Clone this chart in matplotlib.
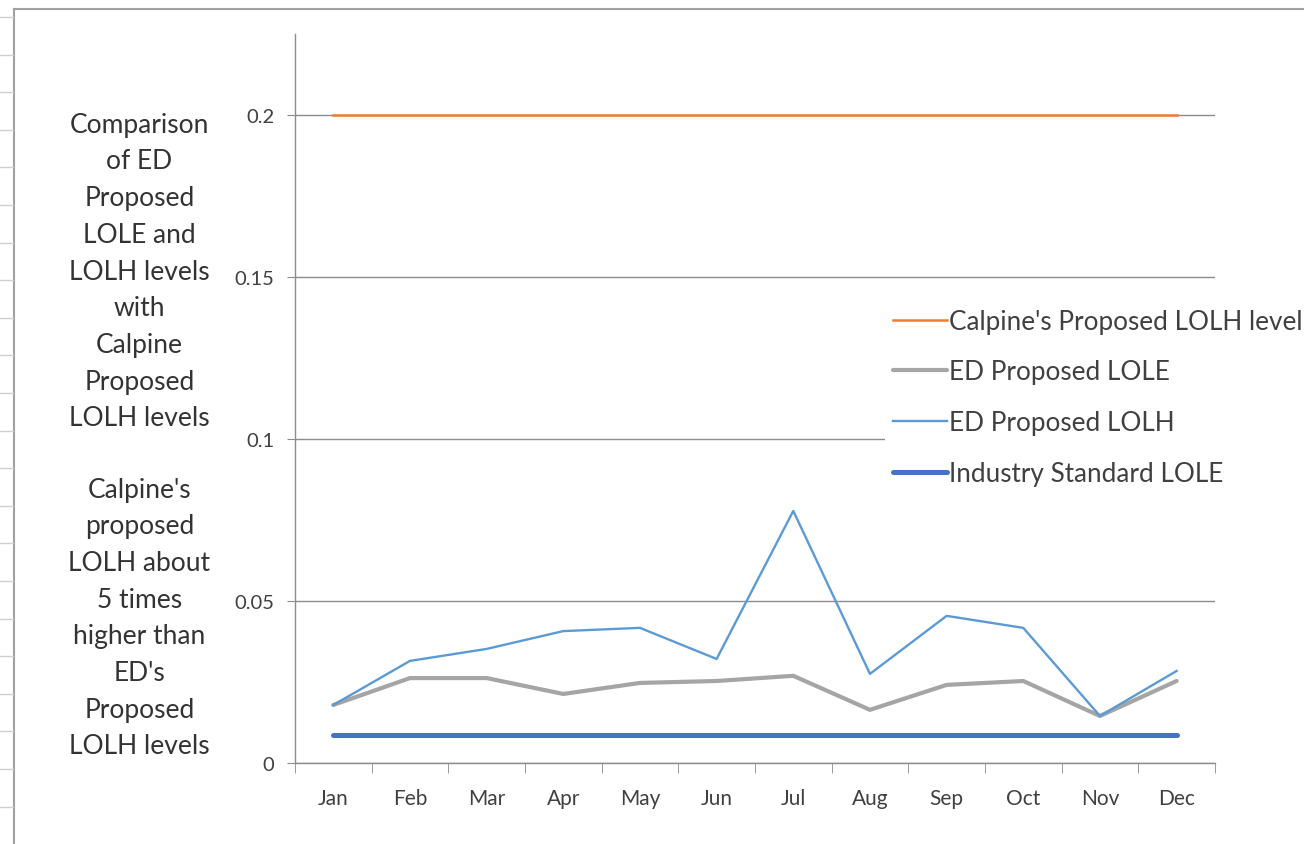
import numpy as np
import matplotlib.pyplot as plt
from matplotlib.lines import Line2D

months = ['Jan', 'Feb', 'Mar', 'Apr', 'May', 'Jun', 'Jul', 'Aug', 'Sep', 'Oct', 'Nov', 'Dec']
calpine_lolh = [0.2] * 12
ed_lole = [0.0179, 0.0262, 0.0262, 0.0213, 0.0247, 0.0253, 0.0269, 0.0164, 0.0241, 0.0253, 0.0145, 0.0253]
ed_lolh = [0.0179, 0.0315, 0.0352, 0.0407, 0.0417, 0.0321, 0.0778, 0.0275, 0.0454, 0.0417, 0.0145, 0.0284]
industry_lole = [0.0085] * 12
yticks = [0, 0.05, 0.1, 0.15, 0.2]
ytick_labels = ['0', '0.05', '0.1', '0.15', '0.2']

note_top = "Comparison\nof ED\nProposed\nLOLE and\nLOLH levels\nwith\nCalpine\nProposed\nLOLH levels"
note_bottom = "Calpine's\nproposed\nLOLH about\n5 times\nhigher than\nED's\nProposed\nLOLH levels"

plt.rcParams['font.family'] = ['Lato', 'DejaVu Sans']

fig = plt.figure(figsize=(13.04, 8.45), dpi=100)
ax = fig.add_axes([0.2262, 0.0959, 0.9317 - 0.2262, 0.9586 - 0.0959])

x = np.arange(len(months))
ax.plot(x, industry_lole, color='#4472C4', lw=3.6, solid_capstyle='round', label='Industry Standard LOLE', zorder=3)
ax.plot(x, ed_lole, color='#A5A5A5', lw=3.0, solid_capstyle='round', label='ED Proposed LOLE', zorder=4)
ax.plot(x, ed_lolh, color='#5B9BD5', lw=1.7, label='ED Proposed LOLH', zorder=5)
ax.plot(x, calpine_lolh, color='#ED7D31', lw=1.8, label="Calpine's Proposed LOLH level", zorder=5)

ax.set_xlim(-0.5, len(months) - 0.5)
ax.set_ylim(0, 0.225)
ax.set_yticks(yticks)
ax.set_yticklabels(ytick_labels, fontsize=14.5, color='#404040')
ax.set_xticks(x)
ax.set_xticklabels(months, fontsize=15, color='#404040')
ax.set_xticks(np.arange(-0.5, len(months)), minor=True)
ax.tick_params(axis='x', which='major', length=0, pad=18)
ax.tick_params(axis='x', which='minor', length=7, color='#8c8c8c', direction='out')
ax.tick_params(axis='y', length=6, color='#8c8c8c', pad=9)
ax.grid(axis='y', color='#8c8c8c', lw=1.0)
ax.set_axisbelow(True)
for s in ['top', 'right']:
    ax.spines[s].set_visible(False)
for s in ['left', 'bottom']:
    ax.spines[s].set_color('#8c8c8c')
    ax.spines[s].set_linewidth(1.0)

handles, labels = ax.get_legend_handles_labels()
order = [3, 1, 2, 0]
leg = ax.legend([handles[i] for i in order], [labels[i] for i in order],
                loc='upper left', bbox_to_anchor=(0.669, 0.658), bbox_transform=fig.transFigure,
                frameon=True, fancybox=False, edgecolor='none', facecolor='white', framealpha=1,
                fontsize=18.8, handlelength=2.04, handletextpad=0.08, labelspacing=0.98,
                borderpad=0.3, labelcolor='#404040')

fig.text(0.107, 0.678, note_top, ha='center', va='center', fontsize=19, linespacing=1.585, color='#333333')
fig.text(0.107, 0.268, note_bottom, ha='center', va='center', fontsize=19, linespacing=1.585, color='#333333')

# chart frame and spreadsheet row lines from the screenshot
fig.add_artist(Line2D([14 / 1304, 14 / 1304], [0, 1 - 10 / 845], transform=fig.transFigure, color='#a0a0a0', lw=1.5))
fig.add_artist(Line2D([14 / 1304, 1], [1 - 10 / 845, 1 - 10 / 845], transform=fig.transFigure, color='#a0a0a0', lw=1.5))
for yy in np.arange(18, 845, 37.6):
    fig.add_artist(Line2D([0, 13 / 1304], [1 - yy / 845, 1 - yy / 845], transform=fig.transFigure, color='#cfcfcf', lw=1))

fig.savefig('out.png', dpi=100)
